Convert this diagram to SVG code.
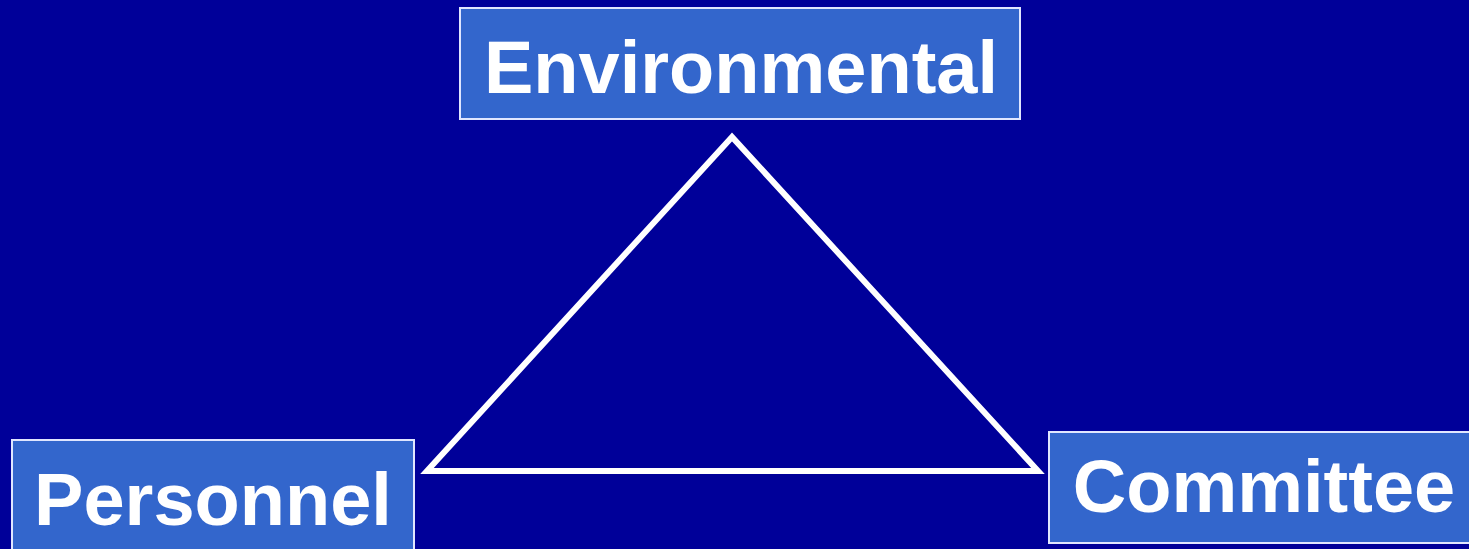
<svg xmlns="http://www.w3.org/2000/svg" width="1469" height="549" viewBox="0 0 1469 549">
<style>
.box{fill:#3366CC;stroke:#E0E6FF;stroke-width:2}
.lbl{font-family:"Liberation Sans",Arial,sans-serif;font-weight:bold;font-size:74px;fill:#FFFFFF;text-anchor:middle}
</style>
<rect width="1469" height="549" fill="#000099"/>
<g id="connectors">
<polygon points="732,137 427,471 1038,471" fill="none" stroke="#FFFFFF" stroke-width="6"/>
</g>
<g id="environmental">
<rect class="box" x="460" y="8" width="560" height="111"/>
<text class="lbl" x="741" y="93">Environmental</text>
</g>
<g id="personnel">
<rect class="box" x="12" y="440" width="402" height="112"/>
<text class="lbl" x="213" y="525">Personnel</text>
</g>
<g id="committee">
<rect class="box" x="1049" y="432" width="430" height="111"/>
<text class="lbl" x="1264" y="512">Committee</text>
</g>
</svg>
